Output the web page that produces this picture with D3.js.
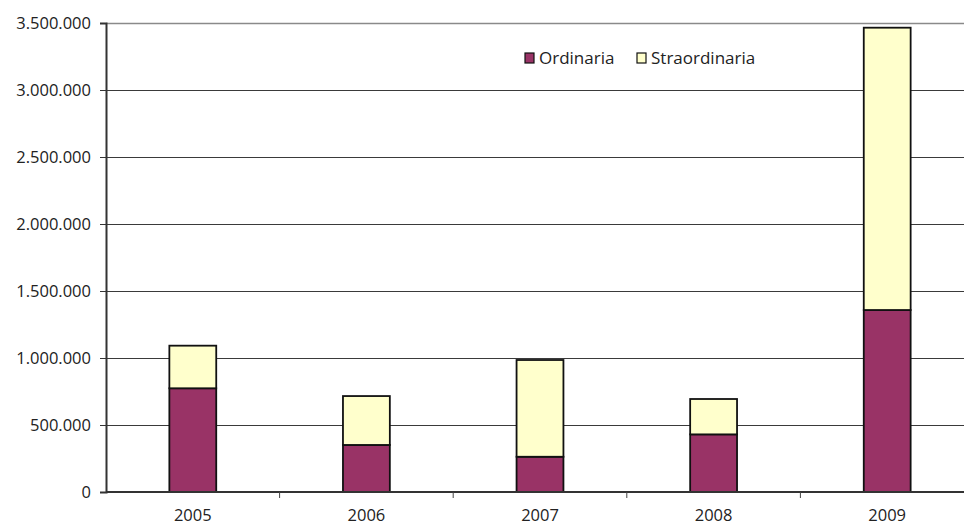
<!DOCTYPE html>
<html>
<head>
<meta charset="utf-8">
<script src="https://cdn.jsdelivr.net/npm/d3@7"></script>
<style>
  html, body { margin: 0; padding: 0; background: #fff; overflow: hidden; }
  svg { display: block; }
  text { font-family: "Open Sans", "DejaVu Sans", sans-serif; fill: #222; }
</style>
</head>
<body>
<script>
// Annual amounts, split into ordinary and extraordinary components
const years = ["2005", "2006", "2007", "2008", "2009"];
const ordinaria = [774000, 351000, 263000, 430000, 1358000];
const straordinaria = [318000, 365000, 722000, 264000, 2107000];
const seriesNames = ["Ordinaria", "Straordinaria"];
const seriesColors = ["#993366", "#FFFFCC"];
const yTicks = [0, 500000, 1000000, 1500000, 2000000, 2500000, 3000000, 3500000];

const W = 964, H = 526;
const margin = { left: 106, top: 23, bottom: 34 };
const plotRight = 974; // plot area runs slightly past the page edge

const svg = d3.select("body").append("svg").attr("width", W).attr("height", H);

const x = d3.scaleBand().domain(years).range([margin.left, plotRight]).paddingInner(0.73).paddingOuter(0.365);
const y = d3.scaleLinear().domain([0, 3500000]).range([H - margin.bottom, margin.top]);

const fmt = v => d3.format(",")(v).replace(/,/g, ".");

// horizontal gridlines
svg.append("g").selectAll("line").data(yTicks.slice(1)).join("line")
  .attr("x1", margin.left).attr("x2", W)
  .attr("y1", d => Math.round(y(d)) + 0.5).attr("y2", d => Math.round(y(d)) + 0.5)
  .attr("stroke", d => d === 3500000 ? "#8a8a8a" : "#3a3a3a")
  .attr("stroke-width", d => d === 3500000 ? 1.5 : 1);

// stacked bars
const rows = years.map((yr, i) => ({ year: yr, Ordinaria: ordinaria[i], Straordinaria: straordinaria[i] }));
const stacked = d3.stack().keys(seriesNames)(rows);

svg.append("g").selectAll("g").data(stacked).join("g")
  .attr("fill", (d, i) => seriesColors[i])
  .selectAll("rect").data(d => d).join("rect")
  .attr("x", d => x(d.data.year))
  .attr("width", x.bandwidth())
  .attr("y", d => y(d[1]))
  .attr("height", d => y(d[0]) - y(d[1]))
  .attr("stroke", "#111")
  .attr("stroke-width", 1.8);

// y axis
const yAxis = d3.axisLeft(y).tickValues(yTicks).tickFormat(fmt).tickSize(6).tickPadding(9);
const gy = svg.append("g").attr("transform", `translate(${margin.left},0)`).call(yAxis);
gy.select(".domain").attr("stroke", "#333").attr("stroke-width", 2);
gy.selectAll(".tick line").attr("stroke", "#333");
gy.selectAll(".tick text").attr("font-size", 16.5).attr("font-family", "'Open Sans', sans-serif").attr("fill", "#222");

// x axis: category boundary ticks plus centred year labels
const xBase = y(0);
svg.append("line").attr("x1", margin.left).attr("x2", W).attr("y1", xBase).attr("y2", xBase)
  .attr("stroke", "#333").attr("stroke-width", 2);
const step = x.step();
const bounds = d3.range(1, years.length).map(k => margin.left + k * step);
svg.append("g").selectAll("line").data(bounds).join("line")
  .attr("x1", d => d).attr("x2", d => d)
  .attr("y1", xBase).attr("y2", xBase + 6)
  .attr("stroke", "#444").attr("stroke-width", 1);
svg.append("g").selectAll("text").data(years).join("text")
  .attr("x", d => x(d) + x.bandwidth() / 2)
  .attr("y", 521)
  .attr("text-anchor", "middle")
  .attr("font-size", 16.5)
  .text(d => d);

// legend
const legend = svg.append("g");
const legendX = [525, 637];
seriesNames.forEach((name, i) => {
  legend.append("rect").attr("x", legendX[i]).attr("y", 53).attr("width", 9).attr("height", 10)
    .attr("fill", seriesColors[i]).attr("stroke", "#111").attr("stroke-width", 1.2);
  legend.append("text").attr("x", legendX[i] + 14).attr("y", 64).attr("font-size", 17).text(name);
});
</script>
</body>
</html>
